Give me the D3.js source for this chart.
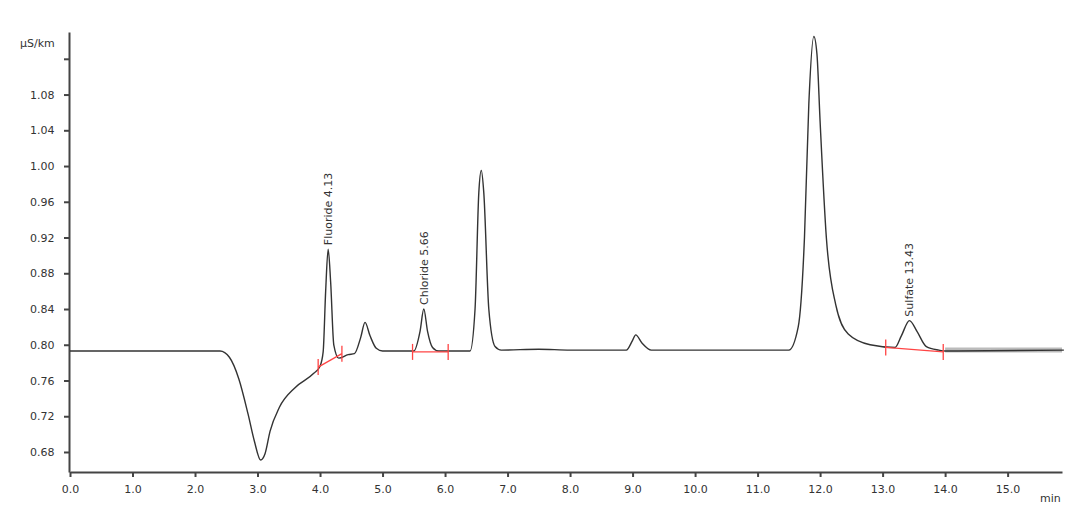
<!DOCTYPE html>
<html><head><meta charset="utf-8">
<script src="https://cdn.jsdelivr.net/npm/d3@7"></script>
<style>body{margin:0;background:#fff}text{font-family:"DejaVu Sans",sans-serif;fill:#333}</style>
</head><body><svg id="c" width="1080" height="519"></svg>
<script>
// trace points: [min, µS/cm]
const trace = [[0,0.793],[2.4,0.793],[2.55,0.786],[2.7,0.762],[2.85,0.722],[2.95,0.692],[3.05,0.671],[3.12,0.678],[3.2,0.703],[3.35,0.73],[3.6,0.752],[3.9,0.768],[4.0,0.776],[4.05,0.792],[4.09,0.86],[4.13,0.907],[4.17,0.87],[4.22,0.80],[4.3,0.785],[4.45,0.789],[4.55,0.79],[4.65,0.808],[4.72,0.825],[4.8,0.81],[4.9,0.796],[5.0,0.793],[5.5,0.793],[5.6,0.815],[5.66,0.84],[5.72,0.815],[5.8,0.797],[5.9,0.793],[6.4,0.793],[6.48,0.84],[6.54,0.97],[6.58,0.995],[6.62,0.97],[6.7,0.84],[6.8,0.798],[6.9,0.794],[7.5,0.795],[8.0,0.794],[8.9,0.794],[9.0,0.805],[9.05,0.811],[9.15,0.802],[9.3,0.794],[11.5,0.794],[11.65,0.82],[11.75,0.92],[11.82,1.07],[11.9,1.145],[11.95,1.125],[12.0,1.05],[12.1,0.92],[12.25,0.845],[12.45,0.812],[12.8,0.800],[13.2,0.797],[13.3,0.81],[13.43,0.827],[13.55,0.815],[13.7,0.798],[13.9,0.794],[14.0,0.793],[15.9,0.794]];
const baselines = [[[3.97,0.775],[4.35,0.790]],[[5.48,0.792],[6.05,0.792]],[[13.05,0.797],[13.97,0.792]]];
const peaks = [{name:"Fluoride 4.13",t:4.13,v:0.907},{name:"Chloride 5.66",t:5.66,v:0.84},{name:"Sulfate 13.43",t:13.43,v:0.827}];
const xTicks = d3.range(0,16,1);
const yTicks = [0.68,0.72,0.76,0.80,0.84,0.88,0.92,0.96,1.00,1.04,1.08,1.12];

const svg = d3.select("#c");
const x = d3.scaleLinear().domain([0,15.87]).range([70,1062]);
const y = d3.scaleLinear().domain([0.6576,1.15]).range([472,32]);

// axes
svg.append("g").attr("transform","translate(0,472)")
  .call(d3.axisBottom(x).tickValues(xTicks).tickFormat(d3.format(".1f")).tickSize(5).tickSizeOuter(0))
  .call(g=>{g.select(".domain").attr("stroke","#444").attr("stroke-width",2);g.selectAll("line").attr("stroke","#444").attr("stroke-width",2);g.selectAll("text").attr("dy","1.2em").style("font-size","11px");});
svg.append("g").attr("transform","translate(69,0)")
  .call(d3.axisLeft(y).tickValues(yTicks).tickFormat(d=>d===1.12?"":d.toFixed(2)).tickSize(5).tickSizeOuter(0))
  .call(g=>{g.select(".domain").attr("stroke","#444").attr("stroke-width",2);g.selectAll("line").attr("stroke","#444").attr("stroke-width",2);g.selectAll("text").attr("dx","-0.6em").style("font-size","11px");});
svg.append("text").attr("x",20).attr("y",47).style("font-size","11px").text("µS/km");
svg.append("text").attr("x",1040).attr("y",502).style("font-size","11px").text("min");

// noise band after 14 min
svg.append("line").attr("x1",x(14)).attr("x2",x(15.87)).attr("y1",y(0.794)).attr("y2",y(0.794))
  .attr("stroke","#bbb").attr("stroke-width",5);

const line = d3.line().x(d=>x(d[0])).y(d=>y(d[1])).curve(d3.curveMonotoneX);
svg.append("path").datum(trace).attr("d",line).attr("fill","none").attr("stroke","#333").attr("stroke-width",1.4);

// integration baselines
baselines.forEach(b=>{
  svg.append("line").attr("x1",x(b[0][0])).attr("y1",y(b[0][1])).attr("x2",x(b[1][0])).attr("y2",y(b[1][1])).attr("stroke","#f44").attr("stroke-width",1.3);
  b.forEach(p=>svg.append("line").attr("x1",x(p[0])).attr("x2",x(p[0])).attr("y1",y(p[1])-8).attr("y2",y(p[1])+8).attr("stroke","#f44").attr("stroke-width",1.3));
});

// peak labels
peaks.forEach(p=>{
  svg.append("text").attr("transform",`translate(${x(p.t)+4},${y(p.v)-4}) rotate(-90)`)
    .style("font-size","11px").text(p.name);
});
</script></body></html>
